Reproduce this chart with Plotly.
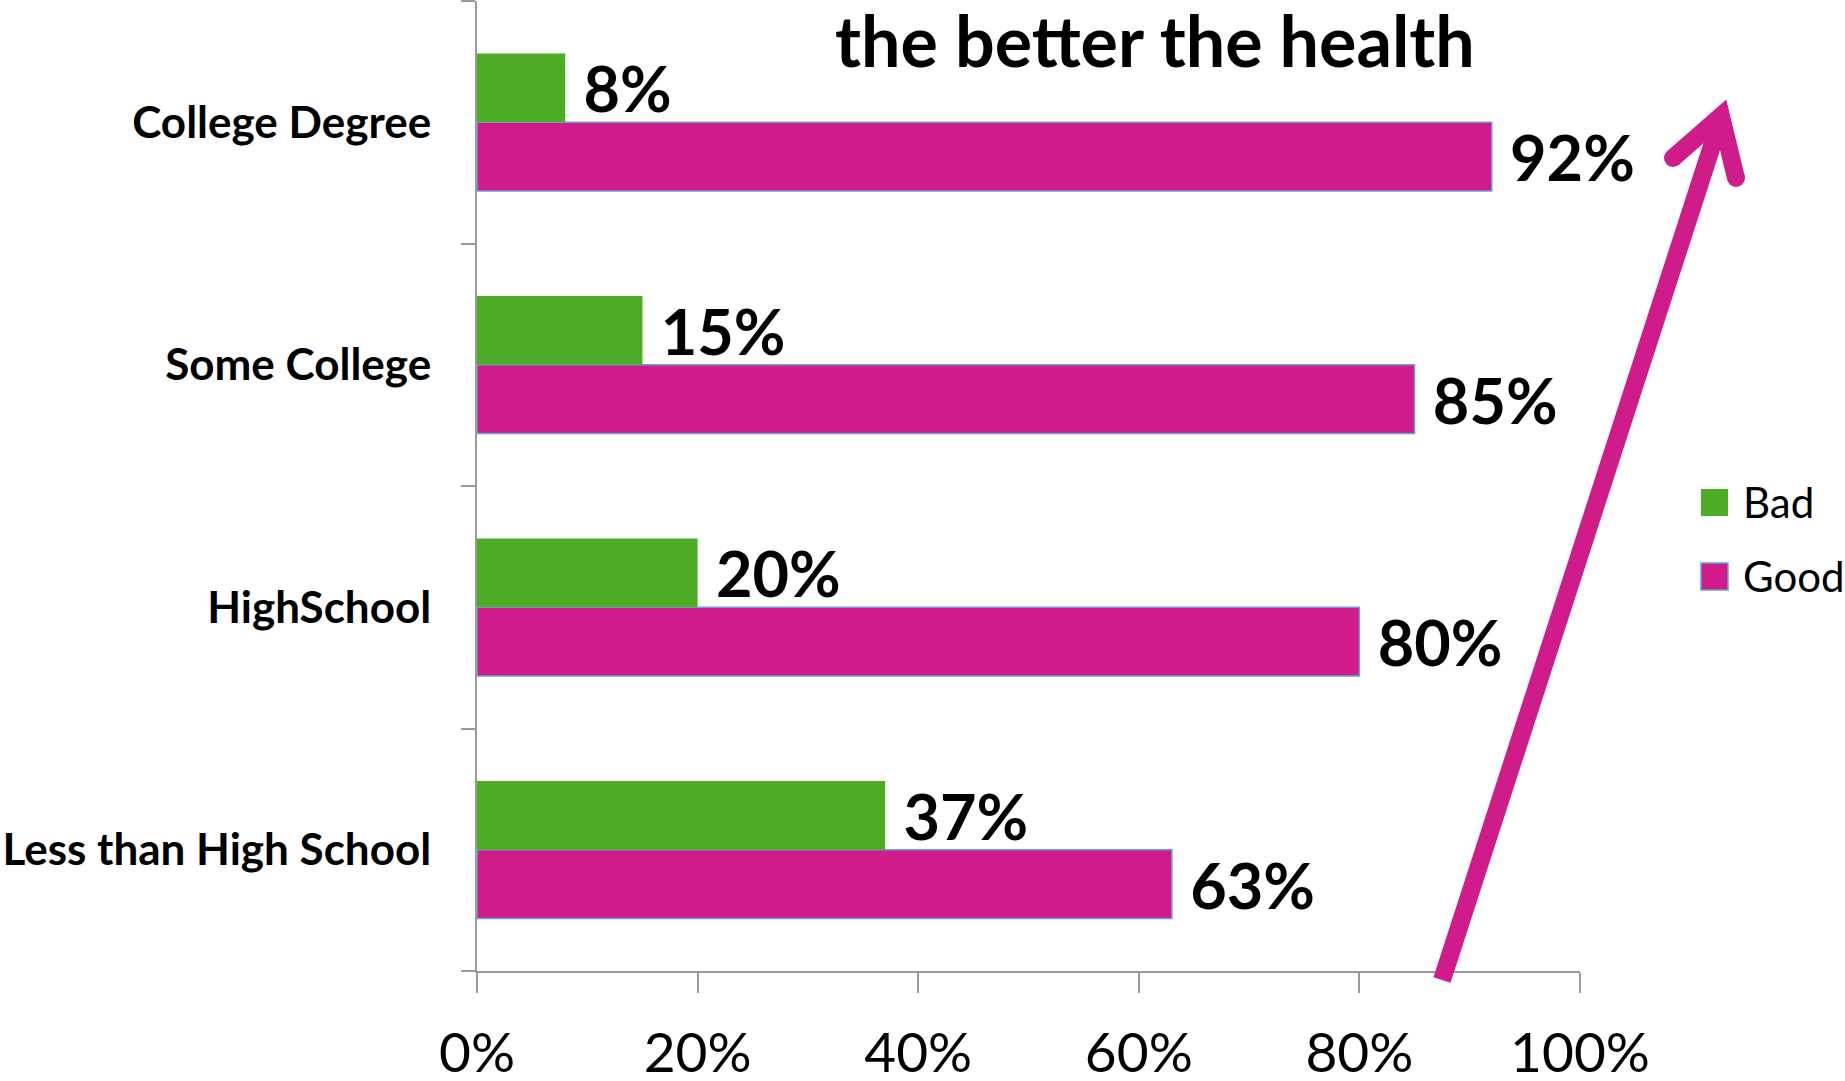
import plotly.graph_objects as go

# Education level (bottom to top) and share reporting bad / good health, in %
categories = ["Less than High School", "HighSchool", "Some College", "College Degree"]
bad = [37, 20, 15, 8]
good = [63, 80, 85, 92]
x_ticks = [0, 20, 40, 60, 80, 100]
x_tick_labels = [f"{v}%" for v in x_ticks]

GREEN = "#4DAC26"
MAGENTA = "#D01C8B"
OUTLINE = "#6A9FD8"
AXIS = "#9A9A9A"
FONT = "Lato"

W, H = 1845, 1081
L, R, T, B = 477, 265, 1, 110
PW, PH = W - L - R, H - T - B


def px(x):
    return (x - L) / PW


def py(y):
    return (H - B - y) / PH


fig = go.Figure()

for name, values, color, line in [
    ("Good", good, MAGENTA, dict(color=OUTLINE, width=1.5)),
    ("Bad", bad, GREEN, dict(width=0)),
]:
    fig.add_trace(go.Bar(
        name=name, y=categories, x=values, orientation="h",
        marker=dict(color=color, line=line),
        text=[f"{v}%" for v in values],
        texttemplate="\u00a0%{text}", textposition="outside",
        textfont=dict(family=FONT, size=63, color="black", weight="bold"),
        constraintext="none", cliponaxis=False, showlegend=False,
    ))

shapes = []
annotations = []

# Legend: coloured squares with labels
legend_items = [("Bad", GREEN, None, 489), ("Good", MAGENTA, OUTLINE, 563)]
for label, color, line_color, top in legend_items:
    shapes.append(dict(
        type="rect", xref="paper", yref="paper",
        x0=px(1701), x1=px(1728), y0=py(top), y1=py(top + 27),
        fillcolor=color,
        line=dict(color=line_color or color, width=1.5 if line_color else 0),
    ))
    annotations.append(dict(
        text=label, xref="paper", yref="paper",
        x=px(1741), y=py(top + 13), xanchor="left", yanchor="middle",
        showarrow=False, font=dict(family=FONT, size=42, color="black"),
    ))

# Rising arrow on the right
shapes.append(dict(
    type="path", xref="paper", yref="paper",
    path=f"M {px(1442)},{py(980)} L {px(1721)},{py(118)}",
    line=dict(color=MAGENTA, width=18),
))
shapes.append(dict(
    type="path", xref="paper", yref="paper",
    path=(f"M {px(1673)},{py(158)} L {px(1721)},{py(116)} "
          f"L {px(1736)},{py(178)}"),
    line=dict(color=MAGENTA, width=18),
))
for cx, cy in [(1673, 158), (1736, 178)]:
    shapes.append(dict(
        type="circle", xref="paper", yref="paper",
        x0=px(cx - 9), x1=px(cx + 9), y0=py(cy + 9), y1=py(cy - 9),
        fillcolor=MAGENTA, line=dict(width=0),
    ))

annotations.append(dict(
    text="<b>the better the health</b>", xref="paper", yref="paper",
    x=px(1155), y=py(40), xanchor="center", yanchor="middle",
    showarrow=False, font=dict(family=FONT, size=70, color="black"),
))

fig.update_layout(
    width=W, height=H,
    margin=dict(l=L, r=R, t=T, b=B, autoexpand=False),
    paper_bgcolor="white", plot_bgcolor="white",
    barmode="group", bargap=0.433, bargroupgap=0,
    showlegend=False,
    shapes=shapes, annotations=annotations,
    xaxis=dict(
        range=[0, 100], tickvals=x_ticks, ticktext=x_tick_labels,
        showgrid=False, zeroline=False,
        showline=True, linecolor=AXIS, linewidth=2,
        ticks="outside", ticklen=20, tickwidth=2, tickcolor=AXIS,
        ticklabelstandoff=13,
        tickfont=dict(family=FONT, size=55, color="black"),
    ),
    yaxis=dict(
        categoryorder="array", categoryarray=categories,
        showgrid=False, zeroline=False,
        showline=True, linecolor=AXIS, linewidth=2,
        ticks="outside", ticklen=14, tickwidth=2, tickcolor=AXIS,
        tickson="boundaries", ticklabelstandoff=35,
        tickfont=dict(family=FONT, size=44, color="black", weight="bold"),
    ),
)

fig.write_html("out.html")
